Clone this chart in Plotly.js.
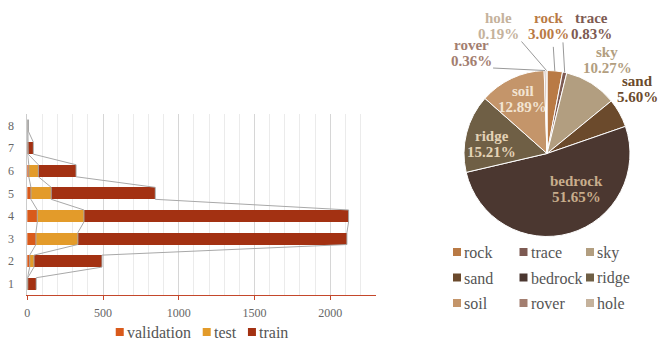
<!DOCTYPE html>
<html>
<head>
<meta charset="utf-8">
<script src="https://cdn.plot.ly/plotly-3.0.1.min.js"></script>
<style>
html,body{margin:0;padding:0;background:#fff;}
#chart{width:660px;height:345px;}
</style>
</head>
<body>
<div id="chart"></div>
<script>
// ---------------- data: stacked bar chart ----------------
const categoryIds = [1, 2, 3, 4, 5, 6, 7, 8];
const categoryLabels = ['1', '2', '3', '4', '5', '6', '7', '8'];
const validationCounts = [1, 16, 57, 66, 24, 10, 2, 1];
const testCounts = [2, 28, 277, 308, 134, 63, 4, 2];
const trainCounts = [56, 449, 1776, 1747, 687, 249, 34, 5];
const seriesNames = ['validation', 'test', 'train'];
const xTickValues = [0, 500, 1000, 1500, 2000];

// ---------------- data: pie chart ----------------
const classNames = ['rock', 'trace', 'sky', 'sand', 'bedrock', 'ridge', 'soil', 'rover', 'hole'];
const classShares = [3.00, 0.83, 10.27, 5.60, 51.65, 15.21, 12.89, 0.36, 0.19];

// ---------------- styles / layout constants ----------------
const W = 660, H = 345;
const SERIF = 'Liberation Serif';
const seriesColors = ['#d95a1b', '#e39b2a', '#a33112'];
const categoryOpacity = [1, 1, 1, 1, 1, 1, 1, 0.25];
const barWidth = 0.53;
const connectorColor = '#a8a8a8';

const sliceColors = ['#b97a45', '#7d5a52', '#b29e80', '#6b4a2c', '#4b3730', '#6f5f45', '#c4956a', '#a37e70', '#c5b29c'];
const sliceTextColors = ['#b97a45', '#7d5a52', '#b29e80', '#6b4a2c', '#c8ad8c', '#e3d2b5', '#f2e4d2', '#a37e70', '#c5b29c'];
// label centre offsets (px) from the slice's outer mid-point
const labelOffsets = [[-6, -45], [27, -46], [16, -23], [18, -24], [6, -44], [25, 11], [11, 21], [-74, -17.5], [-48.5, -44.5]];
// leader line end offsets (px) from the slice's outer mid-point
const leaderEnds = [[-1.5, -24], [-1.7, -30], null, null, null, null, null, [-52, -2.5], [-25, -29]];
const pieCx = 547, pieCy = 153.5, pieR = 83;

const px = v => v / W;
const py = v => 1 - v / H;

// text width measurement (for legend layout)
const ctx = document.createElement('canvas').getContext('2d');
function textWidth(str, size) {
  ctx.font = size + 'px "' + SERIF + '"';
  return ctx.measureText(str).width;
}

// ---------------- traces ----------------
const seriesValues = [validationCounts, testCounts, trainCounts];
const traces = seriesValues.map((vals, k) => ({
  type: 'bar', orientation: 'h', name: seriesNames[k],
  x: vals, y: categoryIds, width: barWidth,
  marker: {color: seriesColors[k], opacity: categoryOpacity, line: {width: 0}},
  xaxis: 'x', yaxis: 'y', hoverinfo: 'x+y+name', showlegend: false
}));

// connector polylines linking the stack boundaries of neighbouring bars
let cumulative = categoryIds.map(() => 0);
seriesValues.forEach(vals => {
  cumulative = cumulative.map((c, i) => c + vals[i]);
  const xs = [], ys = [];
  categoryIds.forEach((c, i) => {
    xs.push(cumulative[i], cumulative[i]);
    ys.push(c - barWidth / 2, c + barWidth / 2);
  });
  traces.push({type: 'scatter', mode: 'lines', x: xs, y: ys,
    line: {color: connectorColor, width: 1}, showlegend: false, hoverinfo: 'skip',
    xaxis: 'x', yaxis: 'y'});
});

traces.push({
  type: 'pie', labels: classNames, values: classShares,
  sort: false, direction: 'clockwise', rotation: 0,
  marker: {colors: sliceColors, line: {color: '#ffffff', width: 1}},
  textinfo: 'none', showlegend: false, hoverinfo: 'label+percent',
  domain: {x: [px(pieCx - pieR), px(pieCx + pieR)], y: [py(pieCy + pieR), py(pieCy - pieR)]}
});

// ---------------- pie labels, leader lines ----------------
const annotations = [];
const shapes = [];
const total = classShares.reduce((a, b) => a + b, 0);
let acc = 0;
classShares.forEach((v, i) => {
  const th = 2 * Math.PI * (acc + v / 2) / total;
  acc += v;
  const ax = pieCx + pieR * Math.sin(th);
  const ay = pieCy - pieR * Math.cos(th);
  const lx = ax + labelOffsets[i][0];
  const ly = ay + labelOffsets[i][1];
  const f = {family: SERIF, size: 15, color: sliceTextColors[i]};
  annotations.push({xref: 'paper', yref: 'paper', x: px(lx), y: py(ly - 8), xanchor: 'center', yanchor: 'middle',
    text: '<b>' + classNames[i] + '</b>', showarrow: false, font: f});
  annotations.push({xref: 'paper', yref: 'paper', x: px(lx), y: py(ly + 8), xanchor: 'center', yanchor: 'middle',
    text: '<b>' + (100 * v / total).toFixed(2) + '%</b>', showarrow: false, font: f});
  if (leaderEnds[i]) {
    shapes.push({type: 'line', xref: 'paper', yref: 'paper', layer: 'above',
      x0: px(ax), y0: py(ay), x1: px(ax + leaderEnds[i][0]), y1: py(ay + leaderEnds[i][1]),
      line: {color: '#999999', width: 1}});
  }
});

// ---------------- legends ----------------
const LEG_SQ = 8, LEG_TEXT_GAP = 3, LEG_ITEM_GAP = 12, LEG_FONT = 16, LEG_COLOR = '#555555';
function legendItem(x, y, name, color) {
  shapes.push({type: 'rect', xref: 'paper', yref: 'paper',
    x0: px(x), x1: px(x + LEG_SQ), y0: py(y + LEG_SQ / 2), y1: py(y - LEG_SQ / 2),
    fillcolor: color, line: {width: 0}});
  annotations.push({xref: 'paper', yref: 'paper', x: px(x + LEG_SQ + LEG_TEXT_GAP - 2), y: py(y + 0.5),
    xanchor: 'left', yanchor: 'middle', text: name, showarrow: false,
    font: {family: SERIF, size: LEG_FONT, color: LEG_COLOR}});
}
// bar legend: one centred row
const barLegendCenter = 202, barLegendY = 332;
const itemWidths = seriesNames.map(n => LEG_SQ + LEG_TEXT_GAP + textWidth(n, LEG_FONT));
const rowWidth = itemWidths.reduce((a, b) => a + b, 0) + LEG_ITEM_GAP * (seriesNames.length - 1);
let lx0 = barLegendCenter - rowWidth / 2;
seriesNames.forEach((n, k) => {
  legendItem(lx0, barLegendY, n, seriesColors[k]);
  lx0 += itemWidths[k] + LEG_ITEM_GAP;
});
// pie legend: 3 x 3 grid
const legCol0 = 453, legColStep = 66.5, legRow0 = 252, legRowStep = 25.5;
classNames.forEach((n, i) => {
  legendItem(legCol0 + (i % 3) * legColStep, legRow0 + Math.floor(i / 3) * legRowStep, n, sliceColors[i]);
});

const layout = {
  width: W, height: H,
  margin: {l: 0, r: 0, t: 0, b: 0},
  paper_bgcolor: '#ffffff', plot_bgcolor: 'rgba(0,0,0,0)',
  font: {family: SERIF, color: '#666666'},
  barmode: 'stack',
  showlegend: false,
  xaxis: {
    domain: [px(27.3), px(375.7)], range: [0, 2300],
    tickmode: 'array', tickvals: xTickValues, ticktext: xTickValues.map(String),
    showgrid: true, gridcolor: '#d6d6d6', gridwidth: 1,
    minor: {dtick: 100, tick0: 0, showgrid: true, gridcolor: '#ebebeb', gridwidth: 1, ticks: ''},
    showline: true, linecolor: '#c4472b', linewidth: 1,
    ticks: 'outside', ticklen: 4, tickcolor: '#c4472b', tickwidth: 1,
    ticklabelstandoff: 3,
    tickfont: {family: SERIF, size: 12, color: '#666666'},
    zeroline: false, fixedrange: true
  },
  yaxis: {
    domain: [py(295), py(114.3)], range: [0.5, 8.5],
    tickmode: 'array', tickvals: categoryIds, ticktext: categoryLabels,
    showgrid: false, showline: true, linecolor: '#cccccc', linewidth: 1,
    ticks: '', ticklabelstandoff: 10,
    tickfont: {family: SERIF, size: 12, color: '#666666'},
    zeroline: false, fixedrange: true
  },
  annotations: annotations,
  shapes: shapes
};

Plotly.newPlot('chart', traces, layout, {displayModeBar: false, staticPlot: true});
</script>
</body>
</html>
